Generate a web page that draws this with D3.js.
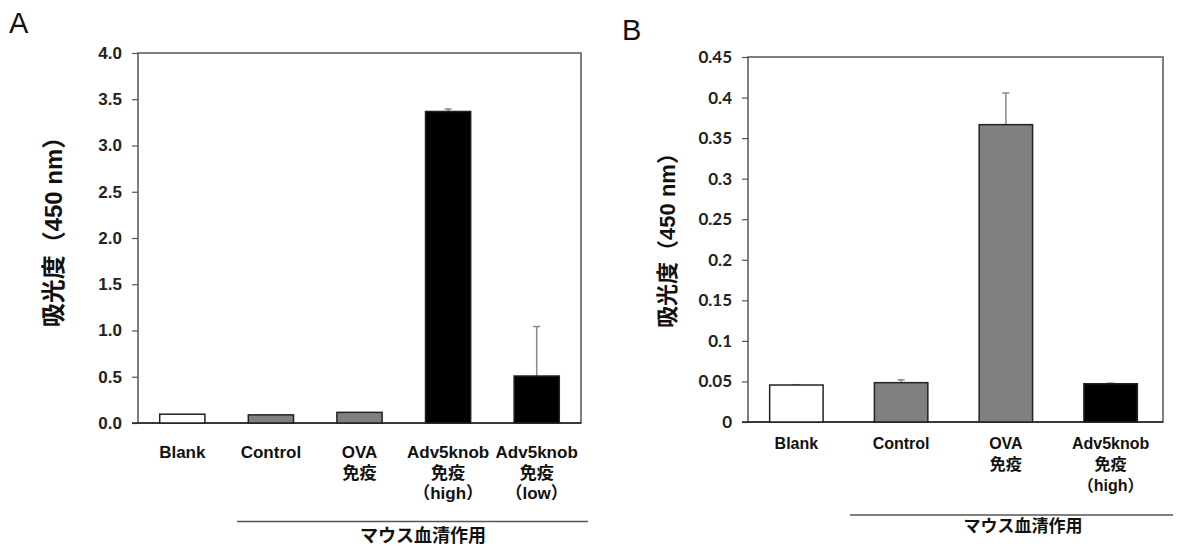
<!DOCTYPE html>
<head>
  <meta charset="utf-8">
  <title>吸光度 (450 nm)</title>
  <script src="https://d3js.org/d3.v7.min.js"></script>
  <style>
    body { margin: 0; background: #fff; }
    text { fill: #111; }
  </style>
</head>
<body>
<script>

  // ---- data: panel A
  let catsA = [["Blank"], ["Control"], ["OVA", "免疫"], ["Adv5knob", "免疫", "（high）"], ["Adv5knob", "免疫", "（low）"]];
  let valsA = [0.095, 0.088, 0.115, 3.368, 0.508];
  let errA  = [0, 0, 0, 0.027, 0.535];
  let fillA = ["#ffffff", "#808080", "#808080", "#000000", "#000000"];
  let ticksA = [0, 0.5, 1.0, 1.5, 2.0, 2.5, 3.0, 3.5, 4.0];

  // ---- data: panel B
  let catsB = [["Blank"], ["Control"], ["OVA", "免疫"], ["Adv5knob", "免疫", "（high）"]];
  let valsB = [0.0456, 0.0485, 0.3666, 0.0472];
  let errB  = [0.0004, 0.0035, 0.039, 0.0007];
  let fillB = ["#ffffff", "#808080", "#808080", "#000000"];
  let ticksB = [0, 0.05, 0.1, 0.15, 0.2, 0.25, 0.3, 0.35, 0.4, 0.45];

  let yLabel = "吸光度（450 nm）";
  let groupLabel = "マウス血清作用";

  let svg = d3.select("body").append("svg")
      .attr("width", 1201)
      .attr("height", 550);

  let latin = "'Liberation Sans', Arial, 'Noto Sans CJK JP', sans-serif";

  function draw_panel(p) {
    let g = svg.append("g");

    let x = d3.scaleBand()
      .domain(p.cats.map((d, i) => i))
      .range([p.bandLeft, p.right])
      .padding(0);
    let y = d3.scaleLinear()
      .domain([0, p.ymax])
      .range([p.bottom, p.top]);

    let barW = x.step() * 0.51;

    // panel letter
    g.append("text")
      .attr("x", p.letterX).attr("y", p.letterY)
      .style("font-family", latin)
      .style("font-size", "29px")
      .text(p.letter);

    // frame
    g.append("rect")
      .attr("x", p.left).attr("y", p.top)
      .attr("width", p.right - p.left).attr("height", p.bottom - p.top)
      .style("fill", "none").style("stroke", "#555").style("stroke-width", 1.5);

    // y axis
    let yAxis = d3.axisLeft(y)
      .tickValues(p.ticks)
      .tickSize(6)
      .tickPadding(p.tickPad)
      .tickFormat(p.fmt);
    let ax = g.append("g")
      .attr("transform", "translate(" + p.left + ",0)")
      .call(yAxis);
    ax.select(".domain").remove();
    ax.selectAll("line").style("stroke", "#555").style("stroke-width", 1.2);
    ax.selectAll("text")
      .style("font-family", p.tickFont)
      .style("font-size", p.tickSize)
      .style("font-weight", "bold")
      .style("fill", "#222");

    // baseline
    g.append("line")
      .attr("x1", p.left - 6).attr("x2", p.right)
      .attr("y1", y(0)).attr("y2", y(0))
      .style("stroke", "#222").style("stroke-width", 1.5);

    // error bars (upper only)
    let eb = g.append("g").selectAll("g")
      .data(p.vals.map((v, i) => ({v: v, e: p.err[i], i: i})).filter(d => d.e > 0))
      .enter().append("g");
    eb.append("line")
      .attr("x1", d => x(d.i) + x.bandwidth() / 2)
      .attr("x2", d => x(d.i) + x.bandwidth() / 2)
      .attr("y1", d => y(d.v))
      .attr("y2", d => y(d.v + d.e))
      .style("stroke", "#888").style("stroke-width", 1.5);
    eb.append("line")
      .attr("x1", d => x(d.i) + x.bandwidth() / 2 - 3.5)
      .attr("x2", d => x(d.i) + x.bandwidth() / 2 + 3.5)
      .attr("y1", d => y(d.v + d.e))
      .attr("y2", d => y(d.v + d.e))
      .style("stroke", "#888").style("stroke-width", 1.5);

    // bars
    g.append("g").selectAll("rect")
      .data(p.vals)
      .enter().append("rect")
      .attr("x", (d, i) => x(i) + x.bandwidth() / 2 - barW / 2)
      .attr("y", d => y(d))
      .attr("width", barW)
      .attr("height", d => y(0) - y(d))
      .style("fill", (d, i) => p.fill[i])
      .style("stroke", "#222")
      .style("stroke-width", 1.5);

    // category labels
    let cl = g.append("g").selectAll("text")
      .data(p.cats)
      .enter().append("text")
      .attr("text-anchor", "middle")
      .style("font-family", latin)
      .style("font-size", p.catSize)
      .style("font-weight", "bold");
    cl.selectAll("tspan")
      .data((d, i) => d.map(s => ({s: s, i: i})))
      .enter().append("tspan")
      .attr("x", d => x(d.i) + x.bandwidth() / 2)
      .attr("y", (d, j) => p.catY + j * p.lineH)
      .text(d => d.s);

    // y label
    g.append("text")
      .attr("transform", "translate(" + p.ylabX + "," + p.ylabY + ") rotate(-90)")
      .attr("text-anchor", "middle")
      .style("font-family", latin)
      .style("font-size", p.ylabSize)
      .style("font-weight", "bold")
      .text(yLabel);

    // group bracket line
    g.append("line")
      .attr("x1", p.grpX1).attr("x2", p.grpX2)
      .attr("y1", p.grpY).attr("y2", p.grpY)
      .style("stroke", "#555").style("stroke-width", 1.5);
    g.append("text")
      .attr("x", p.grpTX).attr("y", p.grpTY)
      .attr("text-anchor", "middle")
      .style("font-family", "'Noto Sans CJK JP', sans-serif")
      .style("font-size", p.grpSize)
      .style("font-weight", "bold")
      .text(groupLabel);
  }

  draw_panel({
    letter: "A", letterX: 9, letterY: 33,
    cats: catsA, vals: valsA, err: errA, fill: fillA, ticks: ticksA, ymax: 4.0,
    fmt: d3.format(".1f"), tickFont: latin, tickSize: "17px", tickPad: 10,
    left: 138, bandLeft: 138, right: 581, top: 53, bottom: 423,
    catSize: "17px", catY: 458, lineH: 20.5,
    ylabX: 62, ylabY: 226, ylabSize: "24px",
    grpX1: 237, grpX2: 588, grpY: 521.5, grpTX: 423, grpTY: 542, grpSize: "18px"
  });

  draw_panel({
    letter: "B", letterX: 622, letterY: 40,
    cats: catsB, vals: valsB, err: errB, fill: fillB, ticks: ticksB, ymax: 0.45,
    fmt: d => d === 0 ? "0" : String(+d.toFixed(2)), tickFont: "Lato, 'Liberation Sans', sans-serif",
    tickSize: "17px", tickPad: 10,
    left: 748, bandLeft: 744, right: 1163, top: 57, bottom: 422,
    catSize: "16px", catY: 449, lineH: 21,
    ylabX: 675, ylabY: 235, ylabSize: "22px",
    grpX1: 850, grpX2: 1173, grpY: 515, grpTX: 1023, grpTY: 532, grpSize: "17px"
  });

</script>
</body>
